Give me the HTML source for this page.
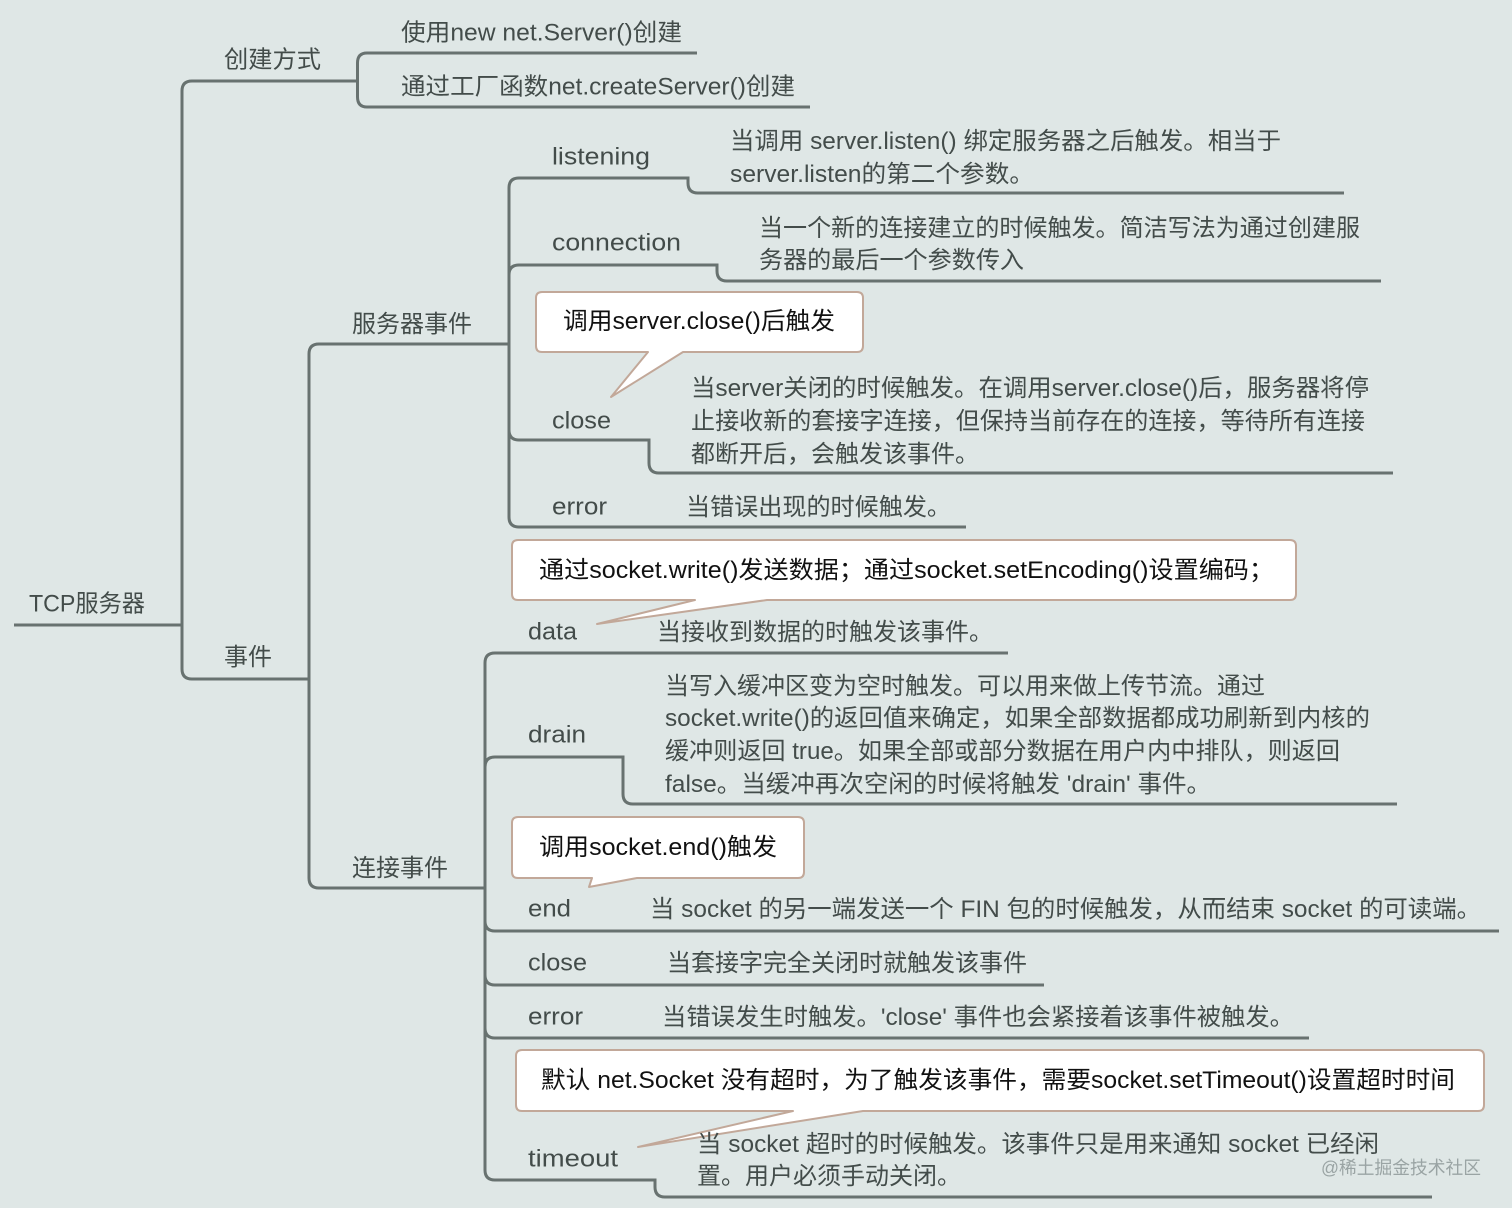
<!DOCTYPE html>
<html lang="zh">
<head>
<meta charset="utf-8">
<title>TCP服务器</title>
<style>
html,body{margin:0;padding:0;background:#dfe7e6;}
svg{display:block;}
text{font-family:"Liberation Sans","Noto Sans CJK SC",sans-serif;font-size:24px;fill:#434c4a;}
text.b{fill:#111;}
text.w{fill:#9aa4a4;font-size:18px;}
.l{fill:none;stroke:#687270;stroke-width:3;}
.c{fill:#fff;stroke:#c2a899;stroke-width:2;stroke-linejoin:round;}
</style>
</head>
<body>
<svg width="1512" height="1208" viewBox="0 0 1512 1208" xmlns="http://www.w3.org/2000/svg">
<rect width="1512" height="1208" fill="#dfe7e6"/>

<!-- connectors -->
<path class="l" d="M14 625H182"/>
<path class="l" d="M182 625V91Q182 81 192 81H357"/>
<path class="l" d="M182 625V669Q182 679 192 679H309"/>
<path class="l" d="M357.500 81V63Q357.500 53 367 53H697"/>
<path class="l" d="M357.500 81V97Q357.500 107 367 107H810"/>
<path class="l" d="M309 679V354Q309 344 319 344H509"/>
<path class="l" d="M309 679V878Q309 888 319 888H485"/>
<path class="l" d="M509 344V188Q509 178 519 178H688V183Q688 193 698 193H1344"/>
<path class="l" d="M509 344V275Q509 265 519 265H717V271Q717 281 727 281H1381"/>
<path class="l" d="M509 344V430Q509 440 519 440H649V463Q649 473 659 473H1393"/>
<path class="l" d="M509 344V517Q509 527 519 527H966"/>
<path class="l" d="M485 888V663Q485 653 495 653H1008"/>
<path class="l" d="M485 888V767Q485 757 495 757H623V794Q623 804 633 804H1397"/>
<path class="l" d="M485 888V921Q485 931 495 931H1499"/>
<path class="l" d="M485 888V975Q485 985 495 985H1044"/>
<path class="l" d="M485 888V1028Q485 1038 495 1038H1309"/>
<path class="l" d="M485 888V1170Q485 1180 495 1180H655V1187Q655 1197 665 1197H1432"/>

<!-- labels -->
<text x="29" y="611.500" textLength="116" lengthAdjust="spacingAndGlyphs">TCP服务器</text>
<text x="224" y="67.500" textLength="97" lengthAdjust="spacingAndGlyphs">创建方式</text>
<text x="224" y="665" textLength="48" lengthAdjust="spacingAndGlyphs">事件</text>
<text x="401" y="40.500" textLength="281" lengthAdjust="spacingAndGlyphs">使用new net.Server()创建</text>
<text x="401" y="94.500" textLength="394" lengthAdjust="spacingAndGlyphs">通过工厂函数net.createServer()创建</text>
<text x="352" y="332" textLength="120" lengthAdjust="spacingAndGlyphs">服务器事件</text>
<text x="352" y="876" textLength="96" lengthAdjust="spacingAndGlyphs">连接事件</text>

<text x="552" y="164.500" textLength="98" lengthAdjust="spacingAndGlyphs">listening</text>
<text x="730" y="149" textLength="551" lengthAdjust="spacingAndGlyphs">当调用 server.listen() 绑定服务器之后触发。相当于</text>
<text x="730" y="182" textLength="304" lengthAdjust="spacingAndGlyphs">server.listen的第二个参数。</text>
<text x="552" y="250.500" textLength="129" lengthAdjust="spacingAndGlyphs">connection</text>
<text x="759" y="236" textLength="601" lengthAdjust="spacingAndGlyphs">当一个新的连接建立的时候触发。简洁写法为通过创建服</text>
<text x="759" y="268" textLength="265" lengthAdjust="spacingAndGlyphs">务器的最后一个参数传入</text>
<text x="552" y="428.500" textLength="59" lengthAdjust="spacingAndGlyphs">close</text>
<text x="691" y="396" textLength="678" lengthAdjust="spacingAndGlyphs">当server关闭的时候触发。在调用server.close()后，服务器将停</text>
<text x="691" y="429" textLength="674" lengthAdjust="spacingAndGlyphs">止接收新的套接字连接，但保持当前存在的连接，等待所有连接</text>
<text x="691" y="462" textLength="288" lengthAdjust="spacingAndGlyphs">都断开后，会触发该事件。</text>
<text x="552" y="514.500" textLength="55" lengthAdjust="spacingAndGlyphs">error</text>
<text x="686" y="515" textLength="265" lengthAdjust="spacingAndGlyphs">当错误出现的时候触发。</text>

<text x="528" y="639.500" textLength="49" lengthAdjust="spacingAndGlyphs">data</text>
<text x="657" y="640" textLength="336" lengthAdjust="spacingAndGlyphs">当接收到数据的时触发该事件。</text>
<text x="528" y="742.500" textLength="58" lengthAdjust="spacingAndGlyphs">drain</text>
<text x="665" y="694" textLength="600" lengthAdjust="spacingAndGlyphs">当写入缓冲区变为空时触发。可以用来做上传节流。通过</text>
<text x="665" y="726" textLength="705" lengthAdjust="spacingAndGlyphs">socket.write()的返回值来确定，如果全部数据都成功刷新到内核的</text>
<text x="665" y="759" textLength="675" lengthAdjust="spacingAndGlyphs">缓冲则返回 true。如果全部或部分数据在用户内中排队，则返回</text>
<text x="665" y="792" textLength="546" lengthAdjust="spacingAndGlyphs">false。当缓冲再次空闲的时候将触发 'drain' 事件。</text>
<text x="528" y="916.500" textLength="43" lengthAdjust="spacingAndGlyphs">end</text>
<text x="650" y="917" textLength="831" lengthAdjust="spacingAndGlyphs">当 socket 的另一端发送一个 FIN 包的时候触发，从而结束 socket 的可读端。</text>
<text x="528" y="970.500" textLength="59" lengthAdjust="spacingAndGlyphs">close</text>
<text x="667" y="971" textLength="360" lengthAdjust="spacingAndGlyphs">当套接字完全关闭时就触发该事件</text>
<text x="528" y="1024.500" textLength="55" lengthAdjust="spacingAndGlyphs">error</text>
<text x="662" y="1025" textLength="632" lengthAdjust="spacingAndGlyphs">当错误发生时触发。'close' 事件也会紧接着该事件被触发。</text>
<text x="528" y="1166.500" textLength="90" lengthAdjust="spacingAndGlyphs">timeout</text>

<!-- callouts -->
<path class="c" d="M542 292H857Q863 292 863 298V346Q863 352 857 352H683L611 397L648 352H542Q536 352 536 346V298Q536 292 542 292Z"/>
<text class="b" x="563" y="329" textLength="272" lengthAdjust="spacingAndGlyphs">调用server.close()后触发</text>

<path class="c" d="M518 540H1290Q1296 540 1296 546V594Q1296 600 1290 600H767L597 624L695 600H518Q512 600 512 594V546Q512 540 518 540Z"/>
<text class="b" x="539" y="578" textLength="735" lengthAdjust="spacingAndGlyphs">通过socket.write()发送数据；通过socket.setEncoding()设置编码；</text>

<path class="c" d="M518 817H798Q804 817 804 823V872Q804 878 798 878H637L589 887L592 878H518Q512 878 512 872V823Q512 817 518 817Z"/>
<text class="b" x="539" y="855" textLength="238" lengthAdjust="spacingAndGlyphs">调用socket.end()触发</text>

<path class="c" d="M522 1050H1478Q1484 1050 1484 1056V1105Q1484 1111 1478 1111H863L638 1147L793 1111H522Q516 1111 516 1105V1056Q516 1050 522 1050Z"/>
<text class="b" x="541" y="1088" textLength="914" lengthAdjust="spacingAndGlyphs">默认 net.Socket 没有超时，为了触发该事件，需要socket.setTimeout()设置超时时间</text>

<text x="697" y="1152" textLength="682" lengthAdjust="spacingAndGlyphs">当 socket 超时的时候触发。该事件只是用来通知 socket 已经闲</text>
<text x="697" y="1184" textLength="264" lengthAdjust="spacingAndGlyphs">置。用户必须手动关闭。</text>

<text class="w" x="1321" y="1174" textLength="160" lengthAdjust="spacingAndGlyphs">@稀土掘金技术社区</text>
</svg>
</body>
</html>
